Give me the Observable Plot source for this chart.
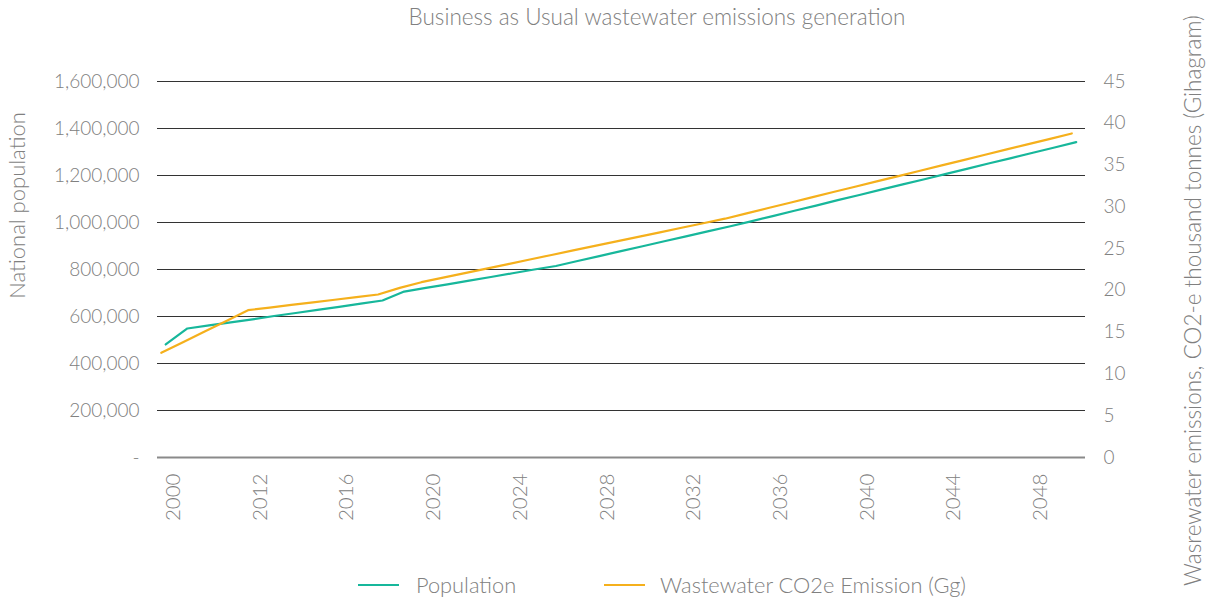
<!DOCTYPE html>
<html>
<head>
<meta charset="utf-8">
<script src="https://cdn.jsdelivr.net/npm/d3@7"></script>
<script src="https://cdn.jsdelivr.net/npm/@observablehq/plot@0.6"></script>
<style>
  html, body { margin: 0; padding: 0; background: #fff; }
  body { width: 1213px; height: 603px; position: relative; font-family: Lato, "Open Sans", sans-serif; font-weight: 300; color: #7f7f7f; overflow: hidden; }
  #title { position: absolute; top: 5px; left: 657px; transform: translateX(-50%); white-space: nowrap; font-size: 22.5px; line-height: 24px; color: #808080; }
  #chart { position: absolute; top: 36px; left: 0; }
  #chart svg { overflow: visible; }
  .leg { position: absolute; top: 572px; height: 26px; line-height: 26px; font-size: 21.8px; color: #808080; white-space: nowrap; }
  .leg .sw { position: absolute; top: 12px; height: 2px; width: 41px; }
</style>
</head>
<body>
<div id="title">Business as Usual wastewater emissions generation</div>
<div id="chart"></div>
<div class="leg" style="left:358px;"><span class="sw" style="left:0;background:#17b79b"></span><span style="position:absolute;left:58px;">Population</span></div>
<div class="leg" style="left:604px;"><span class="sw" style="left:0;background:#f5b01c"></span><span style="position:absolute;left:56px;">Wastewater CO2e Emission (Gg)</span></div>
<script>
// Categories (years) on the x axis
const years = [2000, 2009, 2010, 2011, 2012, 2013, 2014, 2015, 2016, 2017, 2018, 2019, 2020,
  2021, 2022, 2023, 2024, 2025, 2026, 2027, 2028, 2029, 2030, 2031, 2032, 2033, 2034, 2035,
  2036, 2037, 2038, 2039, 2040, 2041, 2042, 2043, 2044, 2045, 2046, 2047, 2048, 2049, 2050];

// National population (left axis)
const population = [481000, 549000, 562000, 575000, 588000, 602000, 615000, 628000, 641000, 655000,
  668000, 706000, 722000, 737000, 753000, 768000, 784000, 800000, 815000, 836000, 857000, 878000,
  899000, 920000, 941000, 962000, 983000, 1005000, 1027000, 1050000, 1072000, 1095000, 1117000,
  1140000, 1162000, 1184000, 1207000, 1229000, 1252000, 1274000, 1297000, 1319000, 1342000];

// Wastewater CO2e emissions, Gg (right axis)
const emissions = [12.53, 13.80, 15.08, 16.35, 17.63, 17.94, 18.26, 18.57, 18.88, 19.20, 19.51, 20.30, 20.98,
  21.52, 22.07, 22.61, 23.15, 23.70, 24.24, 24.78, 25.32, 25.87, 26.41, 26.95, 27.50, 28.04, 28.58, 29.22,
  29.86, 30.49, 31.13, 31.77, 32.41, 33.04, 33.68, 34.32, 34.96, 35.59, 36.23, 36.87, 37.51, 38.14, 38.78];

// Tick labels
const xTickYears = [2000, 2012, 2016, 2020, 2024, 2028, 2032, 2036, 2040, 2044, 2048];
const popTicks = [0, 200000, 400000, 600000, 800000, 1000000, 1200000, 1400000, 1600000];
const emissionTicks = [0, 5, 10, 15, 20, 25, 30, 35, 40, 45];

const popMax = 1600000, emMax = 45;
const k = popMax / emMax; // maps right-axis values onto the left scale

const rows = years.map((yr, i) => ({year: yr, pop: population[i], em: emissions[i]}));

const GREEN = "#17b79b", ORANGE = "#f5b01c", GREY = "#808080";

const chart = Plot.plot({
  width: 1213,
  height: 525,
  marginTop: 45,
  marginBottom: 104,
  marginLeft: 157,
  marginRight: 128,
  style: {fontFamily: "Lato, 'Open Sans', sans-serif", fontSize: "19px", color: GREY, background: "white", overflow: "visible"},
  x: {type: "point", domain: years, range: [163, 1073.5], padding: 0, round: false},
  y: {domain: [0, popMax]},
  marks: [
    Plot.ruleY(popTicks, {stroke: "#333333", strokeWidth: 1}),
    Plot.ruleY([0], {stroke: "#8a8a8a", strokeWidth: 2}),
    Plot.axisY({ticks: popTicks, tickSize: 0, tickPadding: 18, label: null,
      tickFormat: d => d === 0 ? "-" : d3.format(",")(d), fill: GREY, fontWeight: 300}),
    Plot.axisY({anchor: "right", ticks: emissionTicks.map(v => v * k), tickSize: 0, tickPadding: 18, label: null,
      tickFormat: d => String(Math.round(d / k)), fill: GREY, fontWeight: 300}),
    Plot.axisX({ticks: xTickYears, tickRotate: -90, tickSize: 0, tickPadding: 16, label: null,
      tickFormat: d => String(d), dx: 10, fill: GREY, fontWeight: 300, fontSize: 20.5}),
    Plot.line(rows, {x: "year", y: "pop", stroke: GREEN, strokeWidth: 2.2, dx: 2.2}),
    Plot.line(rows, {x: "year", y: d => d.em * k, stroke: ORANGE, strokeWidth: 2.2, dx: -2.2}),
    Plot.text(["National population"], {frameAnchor: "left", textAnchor: "middle", rotate: -90, dx: -140, dy: -64,
      fill: GREY, fontSize: 22, fontWeight: 300}),
    Plot.text(["Wasrewater emissions, CO2-e thousand tonnes (Gihagram)"], {frameAnchor: "right", textAnchor: "middle", rotate: -90, dx: 108, dy: 31,
      fill: GREY, fontSize: 22.5, fontWeight: 300})
  ]
});
document.getElementById("chart").appendChild(chart);
</script>
</body>
</html>
